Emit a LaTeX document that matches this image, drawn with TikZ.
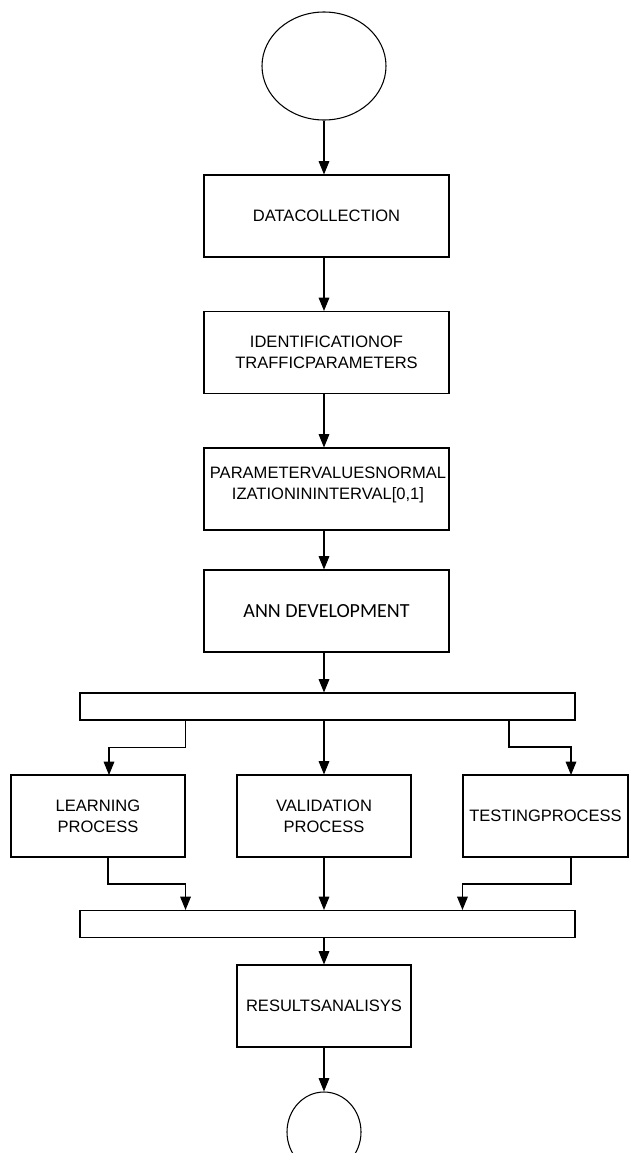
\documentclass[tikz,border=0pt]{standalone}
\usepackage{fontspec}
\setmainfont{Liberation Sans}
\newfontfamily\annfont{Carlito}
\usetikzlibrary{shapes.geometric,arrows.meta}
\tikzset{
  box/.style={draw,line width=0.8pt,minimum width=183.75pt,minimum height=61.5pt,inner sep=0pt,align=center,font=\fontsize{12.4}{15.75}\selectfont},
  smallbox/.style={box,minimum width=130.5pt},
  bar/.style={draw,line width=0.8pt,minimum width=371.25pt,minimum height=20.25pt,inner sep=0pt},
  oval/.style={draw,ellipse,line width=0.8pt,inner sep=0pt},
  arr/.style={line width=0.8pt,-{Triangle[length=10pt,width=8pt]}}
}
\begin{document}
\begin{tikzpicture}[x=0.75pt,y=-0.75pt]
	\clip (0,0) rectangle (629,1153);
	\node[oval,minimum width=93pt,minimum height=81pt] (start) at (324,66) {};
	\node[box] (data) at (326.5,216) {DATACOLLECTION};
	\node[box] (ident) at (326.5,352.5) {IDENTIFICATIONOF\\TRAFFICPARAMETERS};
	\node[box] (norm) at (326.5,489) {};
	\node[align=center,inner sep=0pt,font=\fontsize{12.4}{15.75}\selectfont] (normtext) at (328,484.5) {PARAMETERVALUESNORMAL\\IZATIONININTERVAL[0,1]};
	\node[box,font=\annfont\fontsize{15}{18}\selectfont] (ann) at (326.5,611) {ANN DEVELOPMENT};
	\node[bar] (bar1) at (327.5,706.5) {};
	\node[smallbox] (learn) at (98,816) {LEARNING\\PROCESS};
	\node[smallbox] (valid) at (324,816) {VALIDATION\\PROCESS};
	\node[smallbox,minimum width=123.75pt] (test) at (545.5,816) {TESTINGPROCESS};
	\node[bar] (bar2) at (327.5,924) {};
	\node[smallbox] (res) at (324,1006) {RESULTSANALISYS};
	\node[oval,minimum width=55.5pt,minimum height=60pt] (stop) at (324,1132) {};
	% branch points
	\coordinate (lin) at (109,775);
	\coordinate (ts) at (509,720);
	\coordinate (tin) at (571,775);
	\coordinate (lout) at (108,857);
	\coordinate (tout) at (571,857);
	% main column
	\draw[arr] (start.south) -- (start.south |- data.north);
	\draw[arr] (start.south |- data.south) -- (start.south |- ident.north);
	\draw[arr] (start.south |- ident.south) -- (start.south |- norm.north);
	\draw[arr] (start.south |- norm.south) -- (start.south |- ann.north);
	\draw[arr] (start.south |- ann.south) -- (start.south |- bar1.north);
	% split
	\draw[arr] (bar1.south -| learn.east) -- ++(0,27) -| (lin);
	\draw[arr] (valid.north |- bar1.south) -- (valid.north);
	\draw[arr] (ts) -- ++(0,27) -| (tin);
	% join
	\draw[arr] (lout) -- ++(0,27) -| (bar2.north -| learn.east);
	\draw[arr] (valid.south) -- (valid.south |- bar2.north);
	\draw[arr] (tout) -- ++(0,27) -| (bar2.north -| test.west);
	\draw[arr] (res.north |- bar2.south) -- (res.north);
	\draw[arr] (res.south) -- (stop.north);
\end{tikzpicture}
\end{document}
